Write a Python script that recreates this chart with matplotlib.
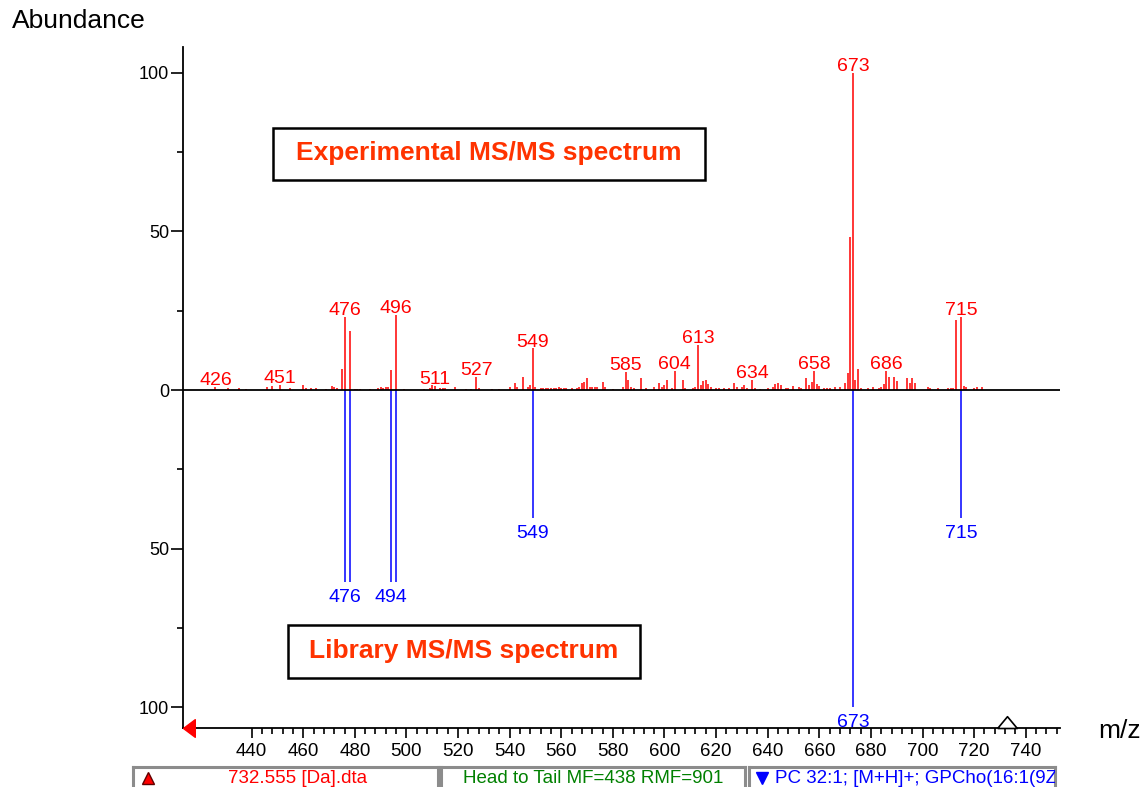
import numpy as np
import matplotlib.pyplot as plt
from matplotlib.ticker import FixedLocator, FuncFormatter

plt.rcParams['font.family'] = ['Liberation Sans', 'DejaVu Sans']

# experimental MS/MS spectrum (m/z, relative abundance)
exp_mz = [426, 431, 435, 438, 446, 448, 451, 455, 460, 461, 463, 465, 469, 471, 472, 473,
          475, 476, 478, 480, 481, 482, 486, 489, 490, 491, 492, 493, 494, 496, 499, 507,
          509, 510, 511, 513, 514, 515, 519, 523, 525, 527, 528, 533, 536, 540, 542, 543,
          545, 547, 548, 549, 550, 552, 553, 554, 555, 556, 557, 558, 559, 560, 561, 562,
          564, 566, 567, 568, 569, 570, 571, 572, 573, 574, 576, 577, 580, 584, 585, 586,
          587, 588, 591, 593, 596, 598, 599, 600, 601, 603, 604, 607, 608, 611, 612, 613,
          614, 615, 616, 617, 618, 620, 621, 623, 625, 627, 628, 630, 631, 632, 634, 635,
          637, 640, 642, 643, 644, 645, 647, 648, 650, 652, 653, 655, 656, 657, 658, 659,
          660, 662, 663, 664, 666, 668, 670, 671, 672, 673, 674, 675, 676, 679, 681, 683,
          684, 685, 686, 687, 689, 690, 694, 695, 696, 697, 702, 703, 706, 710, 711, 712,
          713, 715, 716, 717, 720, 721, 723]
exp_int = [1.0, 0.5, 0.5, 0.4, 0.8, 1.2, 1.6, 0.5, 1.6, 0.5, 0.5, 0.6, 0.4, 1.4, 1.0, 0.6,
           6.6, 23.1, 18.6, 0.4, 0.4, 0.4, 0.4, 0.6, 0.8, 0.6, 1.0, 0.8, 6.3, 23.7, 0.4, 0.4,
           0.5, 1.6, 1.2, 0.5, 0.6, 0.5, 0.8, 0.4, 0.4, 4.0, 0.5, 0.4, 0.4, 1.0, 2.1, 0.8,
           4.2, 0.8, 1.6, 13.1, 0.8, 0.6, 0.5, 0.5, 0.5, 0.6, 0.5, 0.5, 1.0, 0.6, 0.5, 0.5,
           0.5, 0.6, 0.8, 2.1, 2.6, 3.7, 1.0, 0.8, 0.8, 0.8, 2.6, 0.8, 0.4, 0.8, 5.8, 3.2,
           1.0, 0.6, 3.7, 0.5, 1.0, 2.1, 1.0, 1.6, 3.2, 0.6, 6.1, 3.2, 0.6, 0.6, 1.0, 14.2,
           1.6, 2.9, 3.2, 2.0, 1.0, 0.5, 0.5, 0.5, 0.5, 2.1, 1.0, 0.8, 1.5, 0.6, 3.2, 0.5,
           0.4, 0.6, 1.0, 2.0, 2.2, 1.6, 0.6, 0.6, 1.2, 1.0, 0.5, 3.7, 1.6, 2.5, 6.1, 1.9,
           1.2, 0.6, 0.6, 0.6, 1.0, 1.0, 2.1, 5.3, 48.3, 100.0, 3.2, 6.6, 0.6, 0.5, 0.8, 0.6,
           0.8, 1.9, 6.1, 4.2, 4.2, 2.9, 3.7, 2.3, 3.7, 2.1, 0.8, 0.5, 0.5, 0.5, 0.6, 0.6,
           22.1, 23.1, 1.3, 0.8, 0.6, 0.8, 0.8]
exp_labels = [426, 451, 476, 496, 511, 527, 549, 585, 604, 613, 634, 658, 673, 686, 715]

# library MS/MS spectrum (drawn downwards)
lib_mz = [476, 478, 494, 496, 549, 673, 715]
lib_int = [60.6, 60.6, 60.6, 60.6, 40.4, 100.0, 40.4]
lib_labels = [476, 494, 549, 673, 715]

precursor_mz = 732.555
xticks_major = list(range(440, 741, 20))
xticks_minor = list(range(440, 753, 4))
yticks_major = [-100, -50, 0, 50, 100]
yticks_minor = [-75, -25, 25, 75]

red = '#ff0000'
blue = '#0000ff'
orange = '#ff3300'

fig = plt.figure(figsize=(11.45, 7.87), dpi=100)
ax = fig.add_axes([0.1598, 0.075, 0.766, 0.8653])
ax.set_xlim(413.4, 753.3)
ax.set_ylim(-106.6, 108.2)

ax.vlines(exp_mz, 0, exp_int, color=red, lw=1.1)
ax.vlines(lib_mz, 0, -np.array(lib_int), color=blue, lw=1.1)
ax.axhline(0, color='black', lw=1.3, zorder=3)

exp_peaks = dict(zip(exp_mz, exp_int))
for m in exp_labels:
    ax.annotate(str(m), (m, exp_peaks[m]), xytext=(0, -1.5), textcoords='offset points',
                ha='center', va='bottom', color=red, fontsize=14)
lib_peaks = dict(zip(lib_mz, lib_int))
for m in lib_labels:
    ax.annotate(str(m), (m, -lib_peaks[m]), xytext=(0, -5), textcoords='offset points',
                ha='center', va='top', color=blue, fontsize=14)

# axes styling
for s in ['top', 'right']:
    ax.spines[s].set_visible(False)
ax.spines['left'].set_linewidth(1.3)
ax.spines['bottom'].set_linewidth(1.3)
ax.xaxis.set_major_locator(FixedLocator(xticks_major))
ax.xaxis.set_minor_locator(FixedLocator(xticks_minor))
ax.yaxis.set_major_locator(FixedLocator(yticks_major))
ax.yaxis.set_minor_locator(FixedLocator(yticks_minor))
ax.yaxis.set_major_formatter(FuncFormatter(lambda v, p: f"{abs(v):.0f}"))
ax.tick_params(axis='x', which='major', length=7, width=1.2, labelsize=13.5, pad=4)
ax.tick_params(axis='x', which='minor', length=4, width=1.2)
ax.tick_params(axis='y', which='major', length=9, width=1.2, labelsize=13, pad=1)
ax.tick_params(axis='y', which='minor', length=4.5, width=1.2)

# precursor marker and axis arrow
ax.plot(precursor_mz, -106.6, marker=[(-1, 0), (1, 0), (0, 1.2), (-1, 0)], ms=17,
        mfc='white', mec='black', mew=1.2, clip_on=False, zorder=5)
ax.plot(413.4, -106.6, marker=[(0, 0), (1.2, 0.9), (1.2, -0.9), (0, 0)], ms=17,
        mfc=red, mec=red, clip_on=False, zorder=5)

# annotation boxes
ax.add_patch(plt.Rectangle((0.1026, 0.8047), 0.4926, 0.0763, transform=ax.transAxes,
                           fill=False, ec='black', lw=1.8))
ax.text(0.349, 0.8444, 'Experimental MS/MS spectrum', transform=ax.transAxes,
        ha='center', va='center', color=orange, fontsize=19, fontweight='bold')
ax.add_patch(plt.Rectangle((0.1197, 0.0734), 0.4014, 0.0779, transform=ax.transAxes,
                           fill=False, ec='black', lw=1.8))
ax.text(0.3204, 0.1131, 'Library MS/MS spectrum', transform=ax.transAxes,
        ha='center', va='center', color=orange, fontsize=19, fontweight='bold')

fig.text(12 / 1145, 1 - 21 / 787, 'Abundance', ha='left', va='center', fontsize=19)
fig.text(1120 / 1145, 1 - 731 / 787, 'm/z', ha='center', va='center', fontsize=19)


# status bar at the bottom
def status_box(x0, x1):
    bx = fig.add_axes([x0 / 1145, -0.01, (x1 - x0) / 1145, 0.0354])
    bx.set_xlim(0, 1)
    bx.set_ylim(0, 1)
    bx.set_xticks([])
    bx.set_yticks([])
    for s in bx.spines.values():
        s.set_color('#8c8c8c')
        s.set_linewidth(2.2)
    return bx


b1 = status_box(133, 438)
b1.plot(0.049, 0.6, marker='^', ms=9, mfc=red, mec='#600000', clip_on=False)
b1.text(0.538, 0.6, '732.555 [Da].dta', ha='center', va='center', color=red, fontsize=13.5)
b2 = status_box(441, 745)
b2.text(0.5, 0.6, 'Head to Tail MF=438 RMF=901', ha='center', va='center',
        color='#008000', fontsize=13.5)
b3 = status_box(749, 1055)
b3.plot(0.042, 0.62, marker='v', ms=9, mfc=blue, mec=blue, clip_on=False)
b3.text(0.085, 0.6, 'PC 32:1; [M+H]+; GPCho(16:1(9Z)/16:0)', ha='left', va='center',
        color=blue, fontsize=13.5, clip_on=True)

fig.savefig('out.png', dpi=100)
